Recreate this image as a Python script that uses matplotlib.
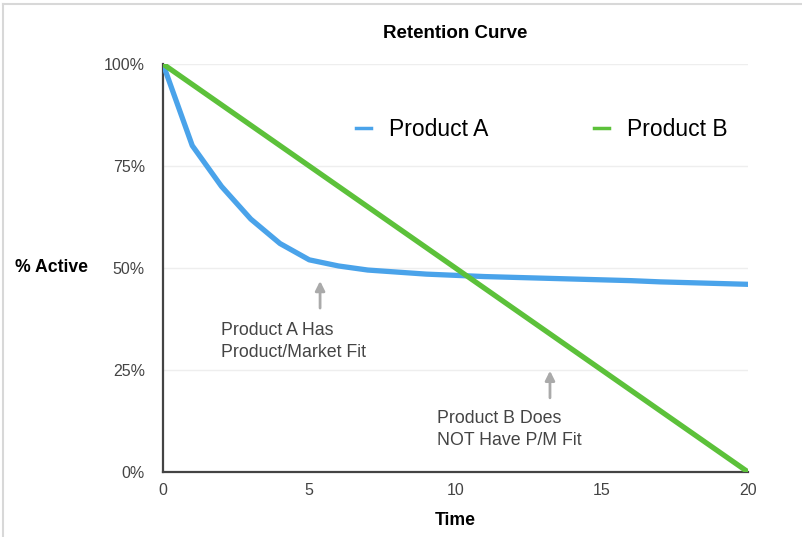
import matplotlib.pyplot as plt
from matplotlib.lines import Line2D

plt.rcParams['font.family'] = ['Liberation Sans', 'DejaVu Sans']

time_a = [0, 1, 2, 3, 4, 5, 6, 7, 8, 9, 10, 11, 12, 13, 14, 15, 16, 17, 18, 19, 20]
active_a = [100, 80, 70, 62, 56, 52, 50.5, 49.5, 49, 48.5, 48.2, 47.9, 47.7,
            47.5, 47.3, 47.1, 46.9, 46.6, 46.4, 46.2, 46]
time_b = [0, 20]
active_b = [100, 0]

x_ticks = [0, 5, 10, 15, 20]
y_ticks = [0, 25, 50, 75, 100]
y_labels = ['0%', '25%', '50%', '75%', '100%']

blue = '#4aa3ea'
green = '#5cc13a'

fig = plt.figure(figsize=(8.03, 5.37), dpi=100)
ax = fig.add_axes([163 / 803, 1 - 472 / 537, 585 / 803, 408 / 537])

ax.plot(time_a, active_a, color=blue, lw=3.8, solid_capstyle='round',
        solid_joinstyle='round', zorder=3)
ax.plot(time_b, active_b, color=green, lw=3.8, solid_capstyle='round', zorder=3)

ax.set_xlim(0, 20)
ax.set_ylim(0, 100)
ax.set_xticks(x_ticks)
ax.set_yticks(y_ticks)
ax.set_yticklabels(y_labels)
ax.tick_params(length=0, labelsize=11.5, labelcolor='#444444')
ax.tick_params(axis='x', pad=8)
ax.tick_params(axis='y', pad=13)
for g in y_ticks[1:]:
    ax.axhline(g, color='#eeeeee', lw=1, zorder=1)

for s in ['top', 'right']:
    ax.spines[s].set_visible(False)
for s in ['left', 'bottom']:
    ax.spines[s].set_color('#444444')
    ax.spines[s].set_linewidth(1.6)

ax.set_title('Retention Curve', fontsize=13.5, fontweight='bold', pad=19)
ax.set_xlabel('Time', fontsize=12.7, fontweight='bold', labelpad=10)
fig.text(15 / 803, 1 - 268 / 537, '% Active', fontsize=12.7, fontweight='bold',
         va='center', ha='left')

handles = [Line2D([], [], color=blue, lw=2.5), Line2D([], [], color=green, lw=2.5)]
ax.legend(handles, ['Product A', 'Product B'], loc='center', ncol=2,
          bbox_to_anchor=(0.648, 0.84), frameon=False, fontsize=16.5,
          handlelength=0.65, handletextpad=0.8, columnspacing=4.6)

arrow = dict(arrowstyle='-|>', color='#aaaaaa', lw=2, mutation_scale=14)
ax.annotate('', xy=(5.37, 47.5), xytext=(5.37, 39.5), arrowprops=arrow)
ax.text(2.0, 36.8, 'Product A Has\nProduct/Market Fit', fontsize=12.8,
        color='#444444', va='top', ha='left', linespacing=1.38)
ax.annotate('', xy=(13.23, 25.5), xytext=(13.23, 17.5), arrowprops=arrow)
ax.text(9.37, 15.3, 'Product B Does\nNOT Have P/M Fit', fontsize=12.8,
        color='#444444', va='top', ha='left', linespacing=1.38)

# light frame along the top and left edges
fig.add_artist(Line2D([3 / 803, 3 / 803], [0, 1 - 4 / 537], transform=fig.transFigure,
                      color='#d8d8d8', lw=1.5))
fig.add_artist(Line2D([3 / 803, 1], [1 - 4 / 537, 1 - 4 / 537], transform=fig.transFigure,
                      color='#d8d8d8', lw=1.5))

fig.savefig('out.png', dpi=100)
